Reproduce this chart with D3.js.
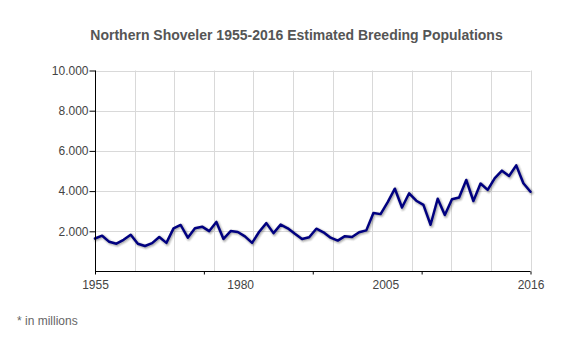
<!DOCTYPE html>
<html>
<head>
<meta charset="utf-8">
<script src="https://cdn.jsdelivr.net/npm/d3@7"></script>
<style>
  html, body { margin: 0; padding: 0; background: #fff; }
  svg { display: block; font-family: Arial, "Liberation Sans", sans-serif; }
</style>
</head>
<body>
<svg id="chart" width="580" height="350"></svg>
<script>
// ---- Data (estimated breeding population, thousands) ----
const years = d3.range(1955, 2017);
const population = [
  1642, 1781, 1476, 1383, 1577, 1824, 1383, 1269, 1410, 1718,
  1423, 2147, 2314, 1684, 2156, 2231, 2011, 2466, 1620, 2012,
  1963, 1745, 1425, 1975, 2406, 1908, 2333, 2148, 1876, 1619,
  1702, 2129, 1951, 1681, 1539, 1759, 1716, 1954, 2046, 2912,
  2855, 3449, 4120, 3183, 3890, 3521, 3314, 2324, 3620, 2810,
  3591, 3680, 4553, 3507, 4376, 4058, 4641, 5018, 4751, 5279,
  4391, 3967
];
const xTickLabels = ["1955", "1980", "2005", "2016"];
const yTickValues = [2000, 4000, 6000, 8000, 10000];
const titleText = "Northern Shoveler 1955-2016 Estimated Breeding Populations";
const footnoteText = "* in millions";

// ---- Layout ----
const plot = { left: 95, right: 530.5, top: 70.5, bottom: 271.5 };
const svg = d3.select("#chart");

const x = d3.scaleLinear().domain([years[0], years[years.length - 1]]).range([plot.left, plot.right]);
const y = d3.scaleLinear().domain([0, 10000]).range([plot.bottom, plot.top]);
const xLabelScale = d3.scalePoint().domain(xTickLabels).range([plot.left, plot.right]);

const fmt = d3.formatLocale({ decimal: ",", thousands: ".", grouping: [3], currency: ["", ""] }).format(",d");

// Title
svg.append("text")
  .attr("x", 296.5).attr("y", 39.5)
  .attr("text-anchor", "middle")
  .attr("font-size", 14).attr("font-weight", "bold")
  .attr("fill", "#555")
  .text(titleText);

// Grid
const grid = svg.append("g").attr("stroke", "#d9d9d9").attr("stroke-width", 1);
const nV = 11;
const vGrid = d3.range(1, nV + 1).map(i => plot.left + (plot.right - plot.left) * i / nV);
grid.selectAll("line.v").data(vGrid).join("line")
  .attr("x1", d => Math.round(d) + 0.5).attr("x2", d => Math.round(d) + 0.5)
  .attr("y1", plot.top).attr("y2", plot.bottom);
grid.selectAll("line.h").data(yTickValues).join("line")
  .attr("x1", plot.left).attr("x2", plot.right)
  .attr("y1", d => Math.round(y(d)) + 0.5).attr("y2", d => Math.round(y(d)) + 0.5);

// Line with shadow
const line = d3.line().x((d, i) => x(years[i])).y(d => y(d));
const shadow = svg.append("g").attr("transform", "translate(1,1)");
[1, 2, 3].forEach(i => {
  shadow.append("path")
    .attr("d", line(population))
    .attr("fill", "none")
    .attr("stroke", "#000")
    .attr("stroke-opacity", 0.05 * i)
    .attr("stroke-width", 2.5 + 6 - 2 * i)
    .attr("stroke-linejoin", "round")
    .attr("stroke-linecap", "round");
});
svg.append("path")
  .attr("d", line(population))
  .attr("fill", "none")
  .attr("stroke", "#000080")
  .attr("stroke-width", 2.5)
  .attr("stroke-linejoin", "round")
  .attr("stroke-linecap", "round");

// Y axis
const yAxis = d3.axisLeft(y).tickValues(yTickValues).tickFormat(fmt).tickSize(6).tickPadding(1);
const gy = svg.append("g").attr("transform", `translate(${plot.left + 0.5},0)`).call(yAxis);
gy.select(".domain").attr("d", `M0,${plot.top}V${plot.bottom}`).attr("stroke", "#000");
gy.selectAll(".tick line").attr("stroke", "#000");
gy.selectAll(".tick text").attr("font-size", 12).attr("fill", "#444").attr("font-family", "Arial, 'Liberation Sans', sans-serif");

// X axis (tick marks)
const xAxis = d3.axisBottom(x).tickValues(d3.range(5).map(i => years[0] + (years[years.length - 1] - years[0]) * i / 4))
  .tickFormat("").tickSize(3);
const gx = svg.append("g").attr("transform", `translate(0,${plot.bottom})`).call(xAxis);
gx.select(".domain").attr("d", `M${plot.left},0H${plot.right}`).attr("stroke", "#000");
gx.selectAll(".tick line").attr("stroke", "#000");

// X labels
const xl = d3.axisBottom(xLabelScale).tickSize(0).tickPadding(9);
const gxl = svg.append("g").attr("transform", `translate(0,${plot.bottom})`).call(xl);
gxl.select(".domain").remove();
gxl.selectAll(".tick text").attr("font-size", 12).attr("fill", "#444").attr("font-family", "Arial, 'Liberation Sans', sans-serif");

// Footnote
svg.append("text")
  .attr("x", 17).attr("y", 325)
  .attr("font-size", 12).attr("fill", "#666")
  .text(footnoteText);
</script>
</body>
</html>
